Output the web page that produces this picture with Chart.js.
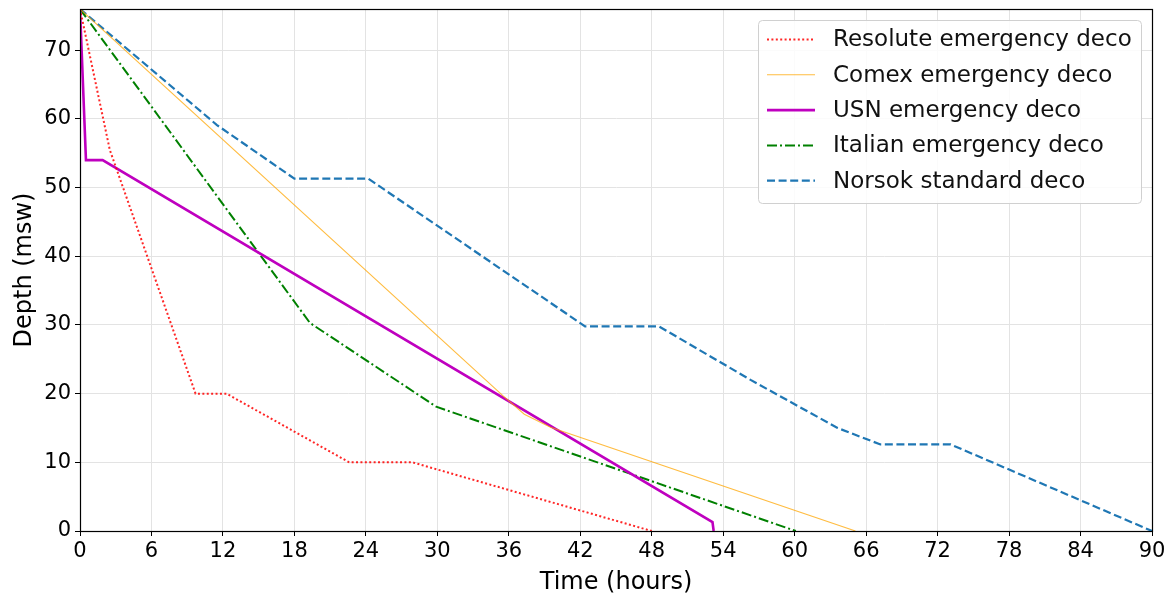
<!DOCTYPE html>
<html>
<head>
<meta charset="utf-8">
<script src="https://cdn.jsdelivr.net/npm/chart.js@4"></script>
<style>
  html, body { margin: 0; padding: 0; background: #fff; }
  #wrap { width: 1169px; height: 595px; }
</style>
</head>
<body>
<div id="wrap"><canvas id="decoChart" width="1169" height="595"></canvas></div>
<script>
// decompression profiles: time (hours) vs depth (msw)
const resoluteTime  = [0, 2.5, 9.7, 12.3, 22.6, 27.9, 48.0];
const resoluteDepth = [76, 55.5, 20, 20, 10, 10, 0];

const comexTime  = [0, 35.5, 37.3, 39.5, 65.1];
const comexDepth = [76, 19.7, 17.0, 15.1, 0];

const usnTime  = [0, 0.5, 1.9, 53.1, 53.2];
const usnDepth = [76, 54, 54, 1.3, 0];

const italianTime  = [0, 19.3, 29.9, 60.1];
const italianDepth = [76, 30.3, 18.1, 0];

const norsokTime  = [0, 11.5, 18.0, 24.2, 42.4, 48.6, 56.3, 63.6, 67.2, 73.1, 90];
const norsokDepth = [76, 59.1, 51.3, 51.3, 29.8, 29.8, 22.0, 15.0, 12.6, 12.6, 0];

const xTicks = [0, 6, 12, 18, 24, 30, 36, 42, 48, 54, 60, 66, 72, 78, 84, 90];
const yTicks = [0, 10, 20, 30, 40, 50, 60, 70];

const FONT = "'DejaVu Sans', sans-serif";

function pts(xs, ys) {
    return xs.map((x, i) => ({ x: x, y: ys[i] }));
}

function series(label, xs, ys, color, width, dash) {
    return {
        label: label,
        data: pts(xs, ys),
        borderColor: color,
        backgroundColor: color,
        borderWidth: width,
        borderDash: dash,
        pointRadius: 0,
        fill: false,
        tension: 0
    };
}

// ===============================
// box around the plot (matplotlib spines)
// ===============================
const frame = {
    id: "frame",
    afterDatasetsDraw(chart) {
        const { ctx, chartArea: a } = chart;
        ctx.save();
        ctx.strokeStyle = "#000";
        ctx.lineWidth = 1.2;
        ctx.strokeRect(a.left + 0.5, a.top + 0.5, a.right - a.left, a.bottom - a.top);
        ctx.restore();
    }
};

// ===============================
// legend in upper right corner
// ===============================
const boxLegend = {
    id: "boxLegend",
    afterDraw(chart) {
        const { ctx } = chart;
        const x0 = 758, y0 = 20, w = 383, h = 183, r = 4;
        ctx.save();
        ctx.fillStyle = "rgba(255,255,255,0.85)";
        ctx.strokeStyle = "#d0d0d0";
        ctx.lineWidth = 1;
        ctx.beginPath();
        ctx.roundRect(x0 + 0.5, y0 + 0.5, w, h, r);
        ctx.fill();
        ctx.stroke();

        ctx.font = "23px " + FONT;
        ctx.textBaseline = "middle";
        ctx.fillStyle = "#111";
        chart.data.datasets.forEach((ds, i) => {
            const y = 39.5 + i * 35.3;
            ctx.strokeStyle = ds.borderColor;
            ctx.lineWidth = ds.borderWidth;
            ctx.setLineDash(ds.borderDash || []);
            ctx.beginPath();
            ctx.moveTo(767, y);
            ctx.lineTo(815, y);
            ctx.stroke();
            ctx.setLineDash([]);
            ctx.fillText(ds.label, 833, y + 1);
        });
        ctx.restore();
    }
};

const ctx = document.getElementById("decoChart").getContext("2d");

new Chart(ctx, {
    type: "line",
    data: {
        datasets: [
            series("Resolute emergency deco", resoluteTime, resoluteDepth, "rgba(255,0,0,0.85)", 2, [2, 2.4]),
            series("Comex emergency deco", comexTime, comexDepth, "rgba(255,165,0,0.75)", 1.1, []),
            series("USN emergency deco", usnTime, usnDepth, "#bf00bf", 2.6, []),
            series("Italian emergency deco", italianTime, italianDepth, "#008000", 2, [10, 3, 2, 3]),
            series("Norsok standard deco", norsokTime, norsokDepth, "#1f77b4", 2.2, [8, 3.6])
        ]
    },
    options: {
        responsive: false,
        devicePixelRatio: 1,
        animation: false,
        layout: { padding: { left: 0, top: 9, right: 17, bottom: 0 } },
        plugins: {
            legend: { display: false },
            tooltip: { enabled: false }
        },
        scales: {
            x: {
                type: "linear",
                min: 0,
                max: 90,
                afterBuildTicks: (s) => { s.ticks = xTicks.map(v => ({ value: v })); },
                afterFit: (s) => { s.height = 64; },
                ticks: {
                    font: { family: FONT, size: 21 },
                    color: "#000",
                    padding: 3,
                    maxRotation: 0,
                    autoSkip: false
                },
                grid: { color: "#e3e3e3", tickColor: "#000", tickLength: 5 },
                border: { display: true, color: "#000", width: 1 },
                title: {
                    display: true,
                    text: "Time (hours)",
                    font: { family: FONT, size: 24, lineHeight: 1.0 },
                    color: "#000",
                    padding: { top: 0, bottom: 0 }
                }
            },
            y: {
                type: "linear",
                min: 0,
                max: 76,
                afterBuildTicks: (s) => { s.ticks = yTicks.map(v => ({ value: v })); },
                afterFit: (s) => { s.width = 80; s.paddingTop = 0; s.paddingBottom = 0; },
                ticks: {
                    font: { family: FONT, size: 21 },
                    color: "#000",
                    padding: 4,
                    autoSkip: false
                },
                grid: { color: "#e3e3e3", tickColor: "#000", tickLength: 5 },
                border: { display: true, color: "#000", width: 1 },
                title: {
                    display: true,
                    text: "Depth (msw)",
                    font: { family: FONT, size: 24, lineHeight: 1.0 },
                    color: "#000",
                    padding: { top: 13, bottom: 0 }
                }
            }
        }
    },
    plugins: [frame, boxLegend]
});
</script>
</body>
</html>
